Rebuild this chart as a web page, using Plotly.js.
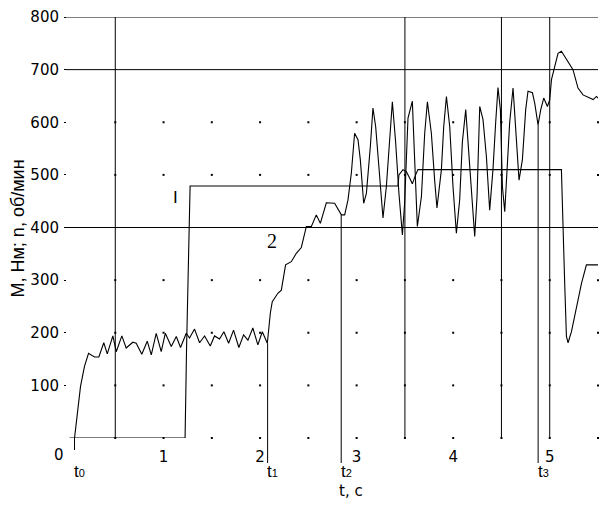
<!DOCTYPE html>
<html><head><meta charset="utf-8">
<script src="https://cdn.plot.ly/plotly-3.0.1.min.js"></script>
<style>html,body{margin:0;padding:0;background:#fff}</style>
</head><body><div id="chart" style="width:612px;height:510px"></div>
<script>
// Curve 2 (oscillating speed curve)
const tCurve2 = [0.078,0.112,0.140,0.181,0.223,0.285,0.330,0.381,0.417,0.475,0.510,0.568,0.613,0.682,0.717,0.775,0.831,0.873,0.924,0.976,
1.018,1.080,1.132,1.176,1.235,1.269,1.321,1.373,1.425,1.484,1.528,1.580,1.625,1.674,1.725,1.780,1.829,1.874,1.925,1.977,
2.023,2.075,2.106,2.126,2.184,2.220,2.264,2.323,2.375,2.427,2.479,2.531,2.582,2.624,2.686,2.772,2.842,2.876,2.910,2.945,
2.979,3.014,3.038,3.073,3.101,3.142,3.169,3.197,3.231,3.273,3.308,3.342,3.370,3.404,3.438,3.474,3.497,3.532,3.577,3.601,
3.629,3.671,3.705,3.733,3.774,3.808,3.832,3.878,3.902,3.930,3.964,3.998,4.033,4.067,4.095,4.130,4.153,4.189,4.223,4.247,
4.275,4.309,4.344,4.378,4.412,4.440,4.464,4.489,4.510,4.534,4.558,4.585,4.620,4.648,4.682,4.717,4.751,4.775,4.821,4.845,
4.879,4.907,4.938,4.976,5.000,5.018,5.052,5.086,5.121,5.173,5.241,5.293,5.345,5.415,5.449,5.484,5.500];
const vCurve2 = [0,53,98,136,161,154,154,181,160,194,164,194,171,182,180,159,184,158,199,164,
199,174,193,172,199,190,207,181,194,175,194,188,202,180,205,172,196,186,209,177,
202,180,237,259,275,281,329,335,351,362,402,402,424,408,447,446,424,424,452,503,
579,567,529,446,465,554,627,592,510,418,478,567,639,562,465,386,446,608,640,529,
402,459,579,639,579,490,437,510,592,649,592,478,389,452,562,624,567,478,383,459,
630,605,535,433,510,599,666,624,478,430,510,599,665,586,490,529,624,659,656,636,
595,624,646,630,643,681,706,731,735,719,700,665,652,646,643,649,646];
// Curve 1 (step torque curve)
const tCurve1 = [0.026,1.223,1.238,1.249,1.259,1.275,3.428,3.438,3.480,3.515,3.549,3.577,3.611,3.635,5.121,5.138,5.155,5.173,5.190,5.225,5.277,5.329,5.380,5.500];
const vCurve1 = [0,0,167,262,400,479,479,500,510,506,494,483,500,510,510,421,294,193,181,202,250,294,329,329];

const xTicks = [1,2,3,4,5];
const yTicks = [100,200,300,400,500,600,700,800];
const hLines = [400,700,800];
const vLines = [0.5,3.5,4.5,5.0];
const markTimes = [0.078,2.078,2.84,4.88];
const markTops = [0,180,424,595];
const markNames = ['0','1','2','3'];
const gridX = [0.5,1,1.5,2,2.5,3,3.5,4,4.5,5,5.5];
const gridY = [0,100,200,300,500,600];
const curveLabelText = ['I','2'];
const curveLabelT = [1.124,2.124];
const curveLabelV = [457,374];

const xMax = 5.5, yMax = 800;
const dotsX = [], dotsY = [];
gridX.forEach(gx => gridY.forEach(gy => { dotsX.push(gx); dotsY.push(gy); }));

const traces = [
  {x: dotsX, y: dotsY, mode:'markers', type:'scatter', marker:{symbol:'square', size:2, color:'#000'}, hoverinfo:'skip', cliponaxis:false},
  {x: tCurve1, y: vCurve1, mode:'lines', type:'scatter', line:{color:'#000', width:1.1}},
  {x: tCurve2, y: vCurve2, mode:'lines', type:'scatter', line:{color:'#000', width:1.1}}
];

const shapes = [];
hLines.forEach(v => shapes.push({type:'line', xref:'paper', yref:'y', x0:-0.002, x1:1, y0:v, y1:v, line:{color:'#000', width:1}}));
vLines.forEach(t => shapes.push({type:'line', xref:'x', yref:'paper', x0:t, x1:t, y0:0, y1:1, line:{color:'#000', width:1}}));
markTimes.forEach((t,i) => shapes.push({type:'line', xref:'x', yref:'paper', x0:t, x1:t, y0:(i===0?-12:-25)/421, y1:markTops[i]/yMax, line:{color:'#000', width:1}}));

const ann = [];
markTimes.forEach((t,i) => ann.push({xref:'x', yref:'paper', x:t, y:0, xanchor:'center', yanchor:'middle', xshift:5, yshift:-33, showarrow:false,
  text:'t<span style="font-size:11px">'+markNames[i]+'</span>', font:{family:'Liberation Sans', size:17, color:'#000'}}));
curveLabelText.forEach((s,i) => ann.push({xref:'x', yref:'y', x:curveLabelT[i], y:curveLabelV[i], showarrow:false, text:s,
  font:{family: i===0 ? 'Liberation Sans' : 'Liberation Serif, Times New Roman, serif', size: i===0 ? 17 : 20, color:'#000'}}));
ann.push({xref:'x', yref:'paper', x:0, y:0, xshift:-8, yshift:-17, xanchor:'center', yanchor:'middle', showarrow:false, text:'0', font:{family:'DejaVu Sans', size:15, color:'#000'}});
ann.push({xref:'x', yref:'paper', x:2.938, y:0, yshift:-53, xanchor:'center', yanchor:'middle', showarrow:false, text:'t, c', font:{family:'DejaVu Sans', size:15, color:'#000'}});
ann.push({xref:'paper', yref:'paper', x:0, y:0.5, xshift:-50, yshift:-1, xanchor:'center', yanchor:'middle', textangle:-90, showarrow:false, text:'M, Нм; n, об/мин', font:{family:'Liberation Sans', size:18, color:'#000'}});

const layout = {
  width:612, height:510, margin:{l:67, r:14, t:17, b:72},
  paper_bgcolor:'#fff', plot_bgcolor:'#fff', showlegend:false,
  font:{family:'DejaVu Sans', size:15, color:'#000'},
  xaxis:{range:[0,xMax], tickvals:xTicks, ticktext:xTicks.map(String), showgrid:false, zeroline:false, showline:false, ticks:'', ticklabelstandoff:8, tickfont:{family:'DejaVu Sans', size:15, color:'#000'}},
  yaxis:{range:[0,yMax], tickvals:yTicks, ticktext:yTicks.map(String), showgrid:false, zeroline:false, showline:false, ticks:'outside', ticklen:2, tickcolor:'#000', tickwidth:1, ticklabelstandoff:2, tickfont:{family:'DejaVu Sans', size:15, color:'#000'}},
  shapes: shapes, annotations: ann
};
Plotly.newPlot('chart', traces, layout, {displayModeBar:false, staticPlot:true});
</script></body></html>
